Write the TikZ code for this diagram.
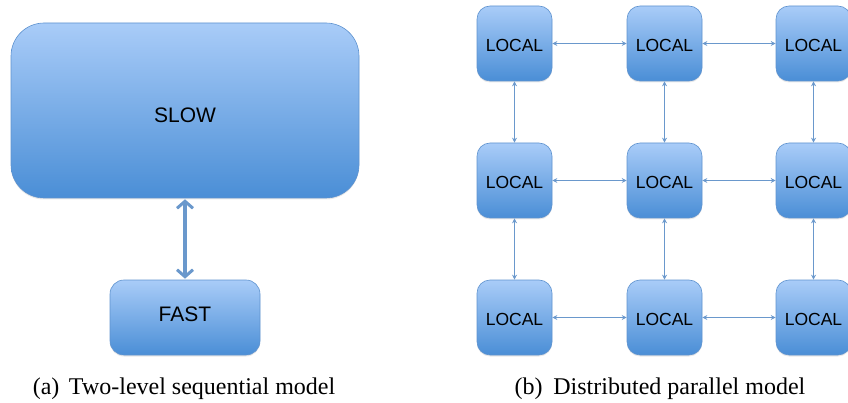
\documentclass[tikz,border=0pt]{standalone}
\usepackage{fontspec}
\setmainfont{Liberation Serif}
\newfontfamily\arialf{Liberation Sans}
\usetikzlibrary{arrows.meta,shadows}
\definecolor{boxtop}{HTML}{A9CCF8}
\definecolor{boxbot}{HTML}{4A8ED6}
\definecolor{boxedge}{HTML}{5F93CF}
\definecolor{arrowc}{HTML}{6A98CC}
\tikzset{
  boxbase/.style={rectangle, draw=boxedge, line width=0.6pt, top color=boxtop, bottom color=boxbot, inner sep=0pt, text=black,
    drop shadow={opacity=0.18, shadow xshift=0pt, shadow yshift=-1.5pt}},
  bigbox/.style={boxbase, rounded corners=33pt, minimum width=348pt, minimum height=175pt, font=\arialf\fontsize{21}{24}\selectfont},
  fastbox/.style={boxbase, rounded corners=14pt, minimum width=150pt, minimum height=75pt, font=\arialf\fontsize{21}{24}\selectfont},
  localbox/.style={boxbase, rounded corners=13pt, minimum width=75pt, minimum height=75pt, font=\arialf\fontsize{17.5}{21}\selectfont},
  bigarrow/.style={draw=arrowc, line width=4pt, {Straight Barb[length=7pt,width=16pt,line width=3pt]}-{Straight Barb[length=7pt,width=16pt,line width=3pt]}, shorten <=1pt, shorten >=1pt},
  smallarrow/.style={draw=arrowc, line width=1.3pt, {Stealth[length=5pt,width=5pt]}-{Stealth[length=5pt,width=5pt]}},
  caption/.style={anchor=base, font=\fontsize{24}{28}\selectfont, inner sep=0pt}
}
\begin{document}
\begin{tikzpicture}[x=1pt,y=-1pt]
\useasboundingbox (0,0) rectangle (848,403);
\node[bigbox] (slow) at (185,110.5) {\raisebox{0pt}[24pt][0pt]{SLOW}};
\node[fastbox] (fast) at (185,317.5) {\raisebox{0pt}[7pt][0pt]{FAST}};
\draw[bigarrow] (slow.south) -- (fast.north);
\node[caption] (capa) at (184,394) {(a)\hspace{0.4em}Two-level sequential model};

\foreach \c/\x in {1/514.5,2/664.5,3/813.5}{
  \foreach \r/\y in {1/43.5,2/180.5,3/317.5}{
    \node[localbox] (l\r\c) at (\x,\y) {\raisebox{0pt}[15.5pt][0pt]{LOCAL}};
  }
}
\foreach \r in {1,2,3}{
  \draw[smallarrow] (l\r1.east) -- (l\r2.west);
  \draw[smallarrow] (l\r2.east) -- (l\r3.west);
}
\foreach \c in {1,2,3}{
  \draw[smallarrow] (l1\c.south) -- (l2\c.north);
  \draw[smallarrow] (l2\c.south) -- (l3\c.north);
}
\node[caption] (capb) at (660,394) {(b)\hspace{0.45em}Distributed parallel model};
\end{tikzpicture}
\end{document}
